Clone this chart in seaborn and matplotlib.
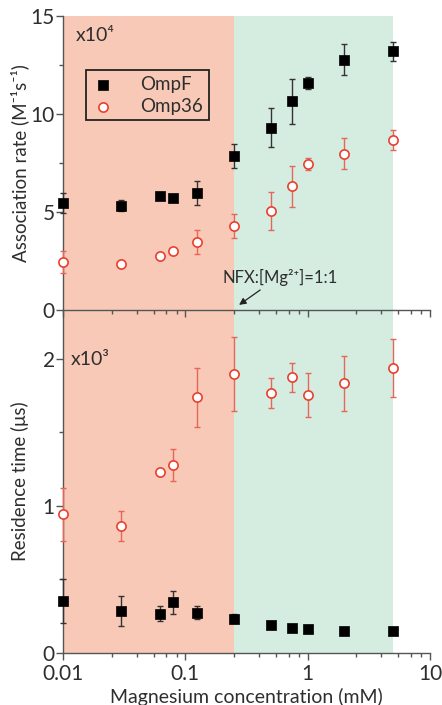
import numpy as np
import pandas as pd
import matplotlib
matplotlib.use("Agg")
import matplotlib.pyplot as plt
import seaborn as sns
from matplotlib.ticker import LogLocator, FixedLocator, NullFormatter

# ---------------- data ----------------
mg_conc = [0.01, 0.03, 0.0625, 0.08, 0.125, 0.25, 0.5, 0.75, 1.0, 2.0, 5.0]

# association rate (x10^4 M^-1 s^-1)
ompf_assoc = [5.45, 5.32, 5.83, 5.71, 5.98, 7.86, 9.31, 10.65, 11.59, 12.78, 13.19]
ompf_assoc_err = [0.5, 0.27, 0.0, 0.0, 0.61, 0.6, 1.0, 1.14, 0.3, 0.8, 0.5]
omp36_assoc = [2.45, 2.35, 2.74, 3.0, 3.46, 4.28, 5.06, 6.32, 7.45, 7.98, 8.66]
omp36_assoc_err = [0.58, 0.1, 0.15, 0.1, 0.6, 0.61, 0.96, 1.04, 0.32, 0.79, 0.51]

# residence time (x10^3 us)
ompf_res = [0.354, 0.284, 0.266, 0.343, 0.272, 0.232, 0.186, 0.170, 0.163, 0.150, 0.148]
ompf_res_err = [0.15, 0.1, 0.05, 0.08, 0.045, 0.03, 0.0, 0.0, 0.0, 0.0, 0.0]
omp36_res = [0.944, 0.863, 1.228, 1.28, 1.739, 1.898, 1.768, 1.875, 1.757, 1.834, 1.939]
omp36_res_err = [0.18, 0.1, 0.02, 0.11, 0.2, 0.25, 0.1, 0.1, 0.15, 0.19, 0.2]

region_bounds = [0.01, 0.25, 5.0]
series_names = ["OmpF", "Omp36"]

# ---------------- style ----------------
sns.set_style("ticks")
plt.rcParams["font.family"] = ["Lato", "DejaVu Sans"]

PINK = "#F9C9B7"
GREEN = "#D5ECE1"
RED = "#E8402F"
RED_ERR = "#E5675A"
SPINE = "#555555"
TXT = "#2E2E2E"

fig = plt.figure(figsize=(4.42, 7.05), dpi=100)
ax2 = fig.add_axes([0.1425, 0.0742, 0.8303, 0.4861])
ax1 = fig.add_axes([0.1425, 0.5603, 0.8303, 0.4170])
ax1.set_zorder(3)
ax2.set_zorder(1)

df = pd.DataFrame({
    "x": mg_conc,
    "ompf_assoc": ompf_assoc, "ompf_assoc_err": ompf_assoc_err,
    "omp36_assoc": omp36_assoc, "omp36_assoc_err": omp36_assoc_err,
    "ompf_res": ompf_res, "ompf_res_err": ompf_res_err,
    "omp36_res": omp36_res, "omp36_res_err": omp36_res_err,
})


def draw(ax, f_col, f_err, o_col, o_err):
    ax.axvspan(region_bounds[0], region_bounds[1], color=PINK, lw=0, zorder=0)
    ax.axvspan(region_bounds[1], region_bounds[2], color=GREEN, lw=0, zorder=0)
    ax.errorbar(df["x"], df[f_col], yerr=df[f_err], fmt="none", ecolor="#333333",
                elinewidth=1.0, capsize=2.5, capthick=1.0, zorder=3, clip_on=False)
    ax.errorbar(df["x"], df[o_col], yerr=df[o_err], fmt="none", ecolor=RED_ERR,
                elinewidth=1.0, capsize=2.5, capthick=1.0, zorder=3, clip_on=False)
    sns.scatterplot(data=df, x="x", y=f_col, ax=ax, marker="s", s=42, color="black",
                    edgecolor="black", linewidth=0.5, zorder=5, legend=False,
                    label=series_names[0], clip_on=False)
    sns.scatterplot(data=df, x="x", y=o_col, ax=ax, marker="o", s=44, facecolor="white",
                    edgecolor=RED, linewidth=1.2, zorder=5, legend=False,
                    label=series_names[1], clip_on=False)
    ax.set_xscale("log")
    ax.set_xlim(0.01, 10)
    ax.xaxis.set_minor_locator(LogLocator(base=10, subs=[2.5, 4, 5.5, 7, 8.5]))
    ax.xaxis.set_minor_formatter(NullFormatter())
    for s in ["top", "right"]:
        ax.spines[s].set_visible(False)
    for s in ["left", "bottom"]:
        ax.spines[s].set_color(SPINE)
        ax.spines[s].set_linewidth(1.0)
    ax.tick_params(which="major", direction="out", length=5, width=1, color=SPINE,
                   labelsize=15, labelcolor=TXT, pad=1)
    ax.tick_params(which="minor", direction="out", length=3, width=1, color=SPINE)
    ax.patch.set_alpha(0)


draw(ax1, "ompf_assoc", "ompf_assoc_err", "omp36_assoc", "omp36_assoc_err")
draw(ax2, "ompf_res", "ompf_res_err", "omp36_res", "omp36_res_err")

# top panel
ax1.set_ylim(0, 15)
ax1.set_yticks([0, 5, 10, 15])
ax1.yaxis.set_minor_locator(FixedLocator([2.5, 7.5, 12.5]))
ax1.tick_params(axis="x", which="both", labelbottom=False)
ax1.set_xlabel("")
ax1.set_ylabel("Association rate (M⁻¹s⁻¹)", fontsize=13.5, color=TXT)
ax1.yaxis.set_label_coords(-0.092, 0.5)
ax1.text(0.035, 0.935, "x10⁴", transform=ax1.transAxes, fontsize=14, color=TXT,
         ha="left", va="center")
leg = ax1.legend(loc="upper left", bbox_to_anchor=(0.063, 0.815), frameon=True,
                 fancybox=False, edgecolor="#222222", facecolor=PINK, framealpha=1,
                 fontsize=13.5, handletextpad=1.4, borderpad=0.3, labelspacing=0.25,
                 handlelength=1.2, borderaxespad=0)
leg.get_frame().set_linewidth(1.3)
for t in leg.get_texts():
    t.set_color(TXT)
ax1.text(0.595, 1.64, "NFX:[Mg²⁺]=1:1", fontsize=12, color=TXT,
         ha="center", va="center", zorder=6)
ax1.annotate("", xy=(0.275, 0.26), xytext=(0.409, 1.02),
             xycoords="data", textcoords="data",
             arrowprops=dict(arrowstyle="-|>", color="#222222", lw=0.9,
                             mutation_scale=10, shrinkA=0, shrinkB=0),
             annotation_clip=False, zorder=6)

# bottom panel
ax2.set_ylim(0, 2.334)
ax2.set_yticks([0, 1, 2])
ax2.yaxis.set_minor_locator(FixedLocator([0.5, 1.5]))
ax2.set_xticks([0.01, 0.1, 1, 10])
ax2.set_xticklabels(["0.01", "0.1", "1", "10"])
ax2.tick_params(axis="x", which="major", pad=3)
ax2.set_xlabel("Magnesium concentration (mM)", fontsize=14, color=TXT, labelpad=3)
ax2.set_ylabel("Residence time (μs)", fontsize=13.5, color=TXT)
ax2.yaxis.set_label_coords(-0.092, 0.5)
ax2.text(0.02, 0.855, "x10³", transform=ax2.transAxes, fontsize=14, color=TXT,
         ha="left", va="center")

fig.savefig("out.png", dpi=100)
